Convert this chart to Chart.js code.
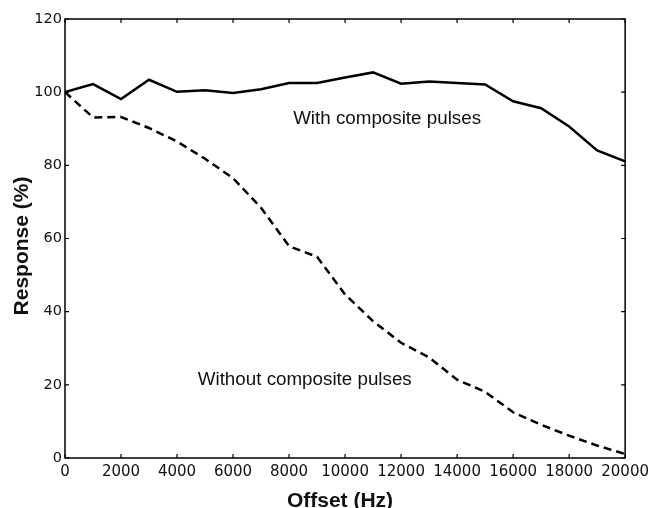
<!DOCTYPE html>
<html>
<head>
<meta charset="utf-8">
<script src="https://cdn.jsdelivr.net/npm/chart.js@4/dist/chart.umd.min.js"></script>
<style>
html,body{margin:0;padding:0;background:#fff;}
#wrap{width:654px;height:508px;position:relative;}
</style>
</head>
<body>
<div id="wrap"><canvas id="c" width="654" height="508"></canvas></div>
<script>
const offsets = [0,1000,2000,3000,4000,5000,6000,7000,8000,9000,10000,11000,12000,13000,14000,15000,16000,17000,18000,19000,20000];
const withComposite = [100,102.2,98.1,103.4,100.1,100.5,99.8,100.8,102.5,102.5,104.0,105.4,102.3,102.9,102.5,102.1,97.5,95.6,90.6,84.1,81.1];
const withoutComposite = [100,93.1,93.2,90.2,86.5,81.8,76.5,68.4,57.9,55.0,44.7,37.4,31.5,27.5,21.4,18.1,12.5,9.1,6.1,3.4,1.1];
const xTicks = [0,2000,4000,6000,8000,10000,12000,14000,16000,18000,20000];
const yTicks = [0,20,40,60,80,100,120];
const seriesNames = ['With composite pulses','Without composite pulses'];
const xTitle = 'Offset (Hz)';
const yTitle = 'Response (%)';

const toXY = vals => offsets.map((x,i)=>({x:x,y:vals[i]}));

const framePlugin = {
  id:'frame',
  afterDraw(chart){
    const {ctx, chartArea:a, scales:{x,y}} = chart;
    ctx.save();
    ctx.strokeStyle = '#000';
    ctx.lineWidth = 1.5;
    ctx.strokeRect(a.left, a.top, a.right-a.left, a.bottom-a.top);
    ctx.lineWidth = 1.2;
    const L = 4;
    ctx.beginPath();
    xTicks.forEach(v=>{
      const px = x.getPixelForValue(v);
      ctx.moveTo(px,a.bottom); ctx.lineTo(px,a.bottom-L);
      ctx.moveTo(px,a.top); ctx.lineTo(px,a.top+L);
    });
    yTicks.forEach(v=>{
      const py = y.getPixelForValue(v);
      ctx.moveTo(a.left,py); ctx.lineTo(a.left+L,py);
      ctx.moveTo(a.right,py); ctx.lineTo(a.right-L,py);
    });
    ctx.stroke();
    // annotations
    ctx.fillStyle = '#111';
    ctx.font = '18.8px "Liberation Sans", Arial, sans-serif';
    ctx.textAlign = 'center';
    ctx.textBaseline = 'middle';
    ctx.fillText(seriesNames[0], x.getPixelForValue(11500), y.getPixelForValue(92.7));
    ctx.fillText(seriesNames[1], x.getPixelForValue(8560), y.getPixelForValue(21.5));
    // axis titles
    ctx.font = 'bold 21px "Liberation Sans", Arial, sans-serif';
    ctx.textBaseline = 'alphabetic';
    ctx.fillText(xTitle, 340, 506.5);
    ctx.translate(28.3, 246);
    ctx.rotate(-Math.PI/2);
    ctx.fillText(yTitle, 0, 0);
    ctx.restore();
  }
};

new Chart(document.getElementById('c'), {
  type:'line',
  data:{
    datasets:[
      {label:seriesNames[0], data:toXY(withComposite), borderColor:'#000', borderWidth:2.5, pointRadius:0, fill:false, tension:0},
      {label:seriesNames[1], data:toXY(withoutComposite), borderColor:'#000', borderWidth:2.5, borderDash:[8,5], pointRadius:0, fill:false, tension:0}
    ]
  },
  options:{
    responsive:false,
    animation:false,
    layout:{padding:{left:0,top:19,right:24,bottom:0}},
    plugins:{legend:{display:false}, tooltip:{enabled:false}},
    scales:{
      x:{
        type:'linear', min:0, max:20000,
        afterBuildTicks(s){ s.ticks = xTicks.map(v=>({value:v})); },
        afterFit(s){ s.height = 50; },
        grid:{display:false, drawTicks:false},
        border:{display:false},
        ticks:{padding:5, color:'#111', font:{family:'"DejaVu Sans"', size:15}, maxRotation:0, autoSkip:false, callback:v=>String(v)}
      },
      y:{
        min:0, max:120,
        afterBuildTicks(s){ s.ticks = yTicks.map(v=>({value:v})); },
        afterFit(s){ s.width = 65; },
        grid:{display:false, drawTicks:false},
        border:{display:false},
        ticks:{padding:3, color:'#111', font:{family:'"DejaVu Sans"', size:14.5}, callback:v=>String(v)}
      }
    }
  },
  plugins:[framePlugin]
});
</script>
</body>
</html>
